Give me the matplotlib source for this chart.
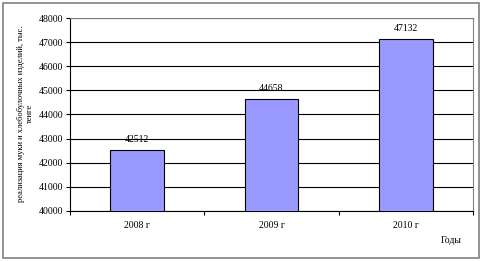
import matplotlib
matplotlib.use("Agg")
import matplotlib.pyplot as plt
from matplotlib.patches import Rectangle

years = ["2008 г", "2009 г", "2010 г"]
values = [42512, 44658, 47132]
yticks = list(range(40000, 48001, 1000))

plt.rcParams['font.family'] = ['Liberation Serif', 'DejaVu Serif']
plt.rcParams['font.size'] = 7

fig = plt.figure(figsize=(4.83, 2.61), dpi=100)
fig.patches.append(Rectangle((0.006, 0.012), 0.986, 0.976, transform=fig.transFigure,
                             fill=False, edgecolor="#808080", linewidth=1.2))

ax = fig.add_axes([0.145, 0.192, 0.834, 0.739])
x = range(len(years))
bars = ax.bar(x, values, width=0.4, color="#9999FF", edgecolor="black", linewidth=0.8, zorder=3)
for xi, v in zip(x, values):
  ax.text(xi, v + 250, str(v), ha="center", va="bottom", fontsize=7)

ax.set_ylim(40000, 48000)
ax.set_xlim(-0.5, 2.5)
ax.set_yticks(yticks)
ax.set_xticks([-0.5, 0.5, 1.5, 2.5], minor=False)
ax.set_xticklabels([])
ax.set_xticks(list(x), minor=True)
ax.set_xticklabels(years, minor=True)
ax.tick_params(axis="x", which="minor", length=0, pad=7)
ax.tick_params(axis="x", which="major", length=3, direction="out")
ax.tick_params(axis="y", length=3, direction="out", pad=2)
ax.yaxis.grid(True, color="black", linewidth=0.8, zorder=0)
ax.set_axisbelow(True)
for s in ["top", "right"]:
  ax.spines[s].set_color("#808080")
ax.spines["left"].set_color("black")
ax.spines["bottom"].set_color("black")

fig.text(0.052, 0.565, "реализация муки и хлебобулочных изделий, тыс.\nтенге", fontsize=6.1,
         rotation=90, ha="center", va="center", multialignment="center", linespacing=1.1)
fig.text(0.913, 0.08, "Годы", fontsize=7, ha="left", va="center")

fig.savefig("out.png", dpi=100)
